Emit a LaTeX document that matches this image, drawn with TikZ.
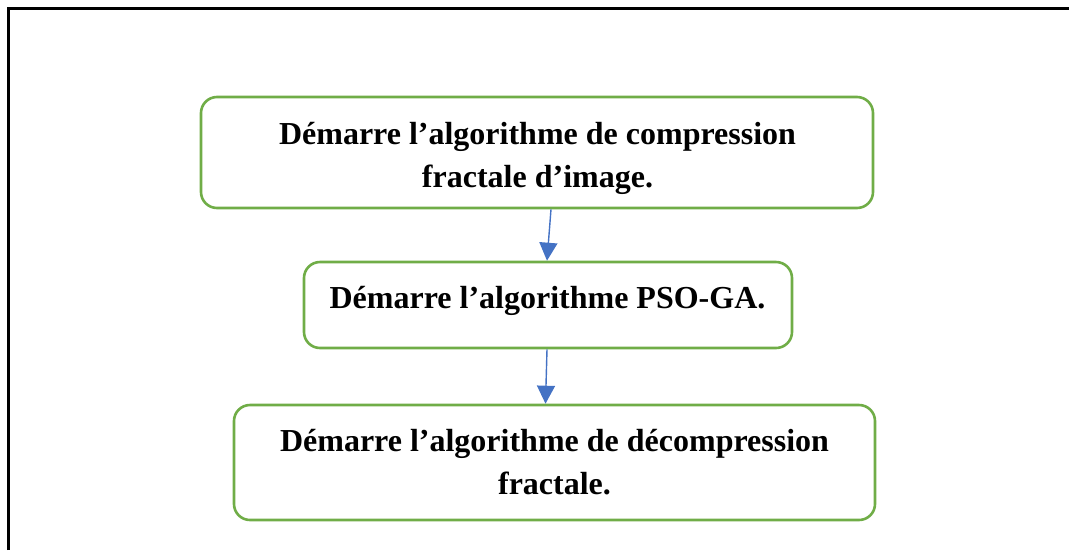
\documentclass[tikz,border=0pt]{standalone}
\usepackage{fontspec}
\setmainfont{Liberation Serif}
\usetikzlibrary{arrows.meta}
\definecolor{boxgreen}{HTML}{70AD47}
\definecolor{flowblue}{HTML}{4472C4}
\tikzset{
  stepbox/.style={draw=boxgreen, line width=2.6pt, rounded corners=16pt,
    align=center, inner sep=0pt,
    font=\fontsize{32}{43}\selectfont\bfseries},
  steptext/.style={align=center, inner sep=0pt,
    font=\fontsize{32}{43}\selectfont\bfseries},
  flow/.style={draw=flowblue, line width=1.4pt,
    -{Triangle[width=18pt,length=18pt]}},
  frame/.style={draw=black, line width=3pt}
}
\begin{document}
\begin{tikzpicture}[x=1pt,y=-1pt]
  \useasboundingbox (0,0) rectangle (1069,550);
  % outer frame (top and left edges)
  \draw[frame] (8,550) -- (8,8) -- (1069,8);
  % process steps: box outlines with their labels
  \node[stepbox, minimum width=672pt, minimum height=111pt] (b1) at (537,152.5) {};
  \node[steptext] (t1) at (537.5,158)
    {Démarre l’algorithme de compression\\fractale d’image.};
  \node[stepbox, minimum width=488pt, minimum height=86pt] (b2) at (548,305) {};
  \node[steptext] (t2) at (547.5,301) {Démarre l’algorithme PSO-GA.};
  \node[stepbox, minimum width=641pt, minimum height=115pt] (b3) at (554.5,462.5)
    {Démarre l’algorithme de décompression\\fractale.};
  % connectors
  \draw[flow] ([xshift=14pt]b1.south) -- ([xshift=-1pt]b2.north);
  \draw[flow] ([xshift=-1pt]b2.south) -- ([xshift=-9pt]b3.north);
\end{tikzpicture}
\end{document}
